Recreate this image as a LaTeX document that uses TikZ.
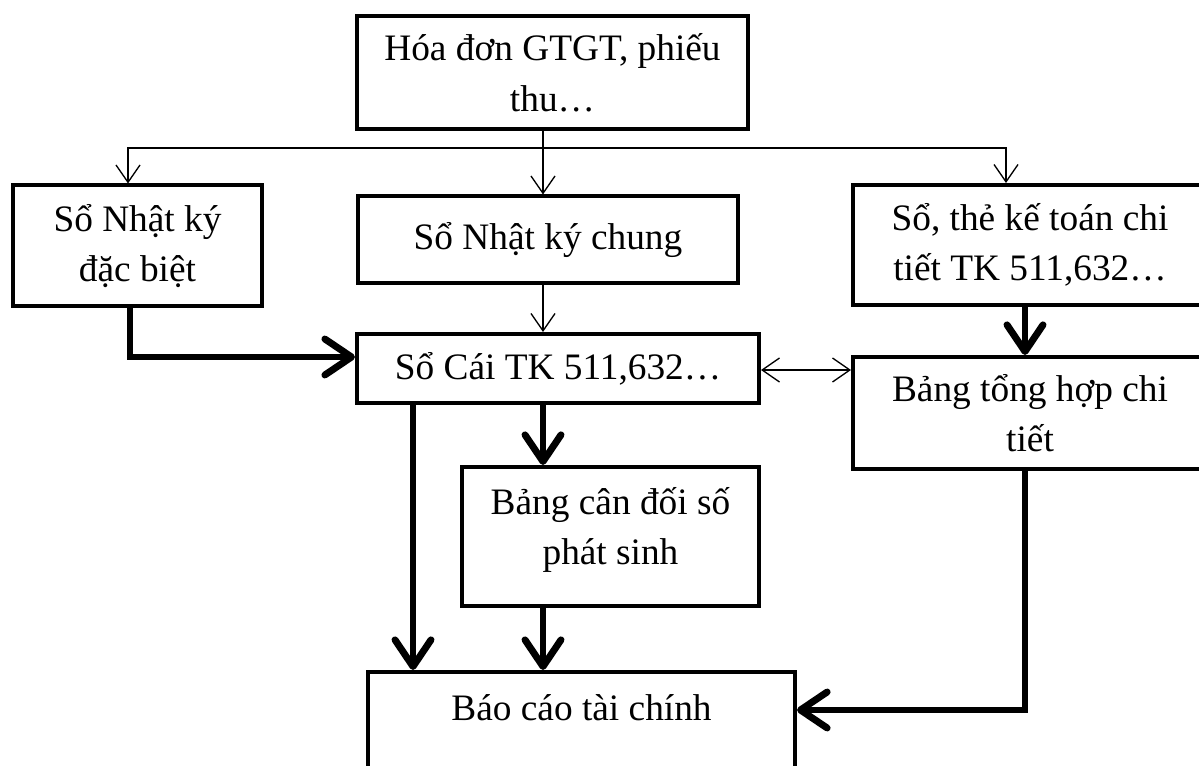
\documentclass[tikz,border=0pt]{standalone}
\usepackage{fontspec}
\setmainfont{Liberation Serif}
\usetikzlibrary{arrows.meta}
\begin{document}
\begin{tikzpicture}[x=0.75pt,y=-0.75pt,
  box/.style 2 args={draw, line width=3pt, inner sep=0pt, align=center,
    minimum width=#1*0.75pt, minimum height=#2*0.75pt},
  txt/.style={inner sep=0pt, align=center},
  thintip/.style={Straight Barb[length=13pt,width=18pt]},
  thinarrow/.style={line width=1pt, -{Straight Barb[length=13pt,width=18pt]}},
  thinboth/.style={line width=1pt, {Straight Barb[length=13pt,width=18pt]}-{Straight Barb[length=13pt,width=18pt]}},
  thinline/.style={line width=1pt},
  bigarrow/.style={line width=5.2pt, line join=miter,
    -{Straight Barb[length=20pt,width=27pt,line cap=round,line join=round]}},
  every node/.style={font=\fontsize{28}{38}\selectfont}]
\clip (0,0) rectangle (1199,766);

% boxes
\node[box={391}{113}] (src) at (552.5,73) {Hóa đơn GTGT, phiếu\\thu…};
\node[box={249}{121}] (dacbiet) at (137.5,246) {Sổ Nhật ký\\đặc biệt};
\node[box={380}{87}] (chung) at (548,240) {Sổ Nhật ký chung};
\node[box={354}{120}] (chitiet) at (1030,245) {Sổ, thẻ kế toán chi\\tiết TK 511,632…};
\node[box={402}{69}] (socai) at (558,368.5) {Sổ Cái TK 511,632…};
\node[box={354}{112}] (tonghop) at (1030,413) {Bảng tổng hợp chi\\tiết};
\node[box={297}{139}] (candoi) at (610.5,536.5) {};
\node[txt] (candoitxt) at (610.5,530) {Bảng cân đối số\\phát sinh};
\node[box={427}{140}] (baocao) at (581.5,742) {};
\node[txt] (baocaotxt) at (581.5,708) {Báo cáo tài chính};

% routing points
\coordinate (bus) at (543,148);
\coordinate (busL) at (128,148);
\coordinate (busR) at (1006,148);
\coordinate (lk) at (130,357);
\coordinate (dbl) at (800,370);
\coordinate (down) at (413,400);
\coordinate (rk) at (1025,710);

% thin distribution arrows
\draw[thinline] (src.south -| bus) -- (bus);
\draw[thinarrow] (bus) -- (chung.north -| bus);
\draw[thinarrow] (bus) -- (busL) -- (dacbiet.north -| busL);
\draw[thinarrow] (bus) -- (busR) -- (chitiet.north -| busR);
\draw[thinarrow] (chung.south -| bus) -- (socai.north -| bus);
\draw[thinboth] (socai.east |- dbl) -- (tonghop.west |- dbl);

% heavy arrows
\draw[bigarrow] (dacbiet.south -| lk) -- (lk) -- (socai.west |- lk);
\draw[bigarrow] (chitiet.south -| rk) -- (tonghop.north -| rk);
\draw[bigarrow] (socai.south -| bus) -- (candoi.north -| bus);
\draw[bigarrow] (socai.south -| down) -- (baocao.north -| down);
\draw[bigarrow] (candoi.south -| bus) -- (baocao.north -| bus);
\draw[bigarrow] (tonghop.south -| rk) -- (rk) -- (baocao.east |- rk);
\end{tikzpicture}
\end{document}
